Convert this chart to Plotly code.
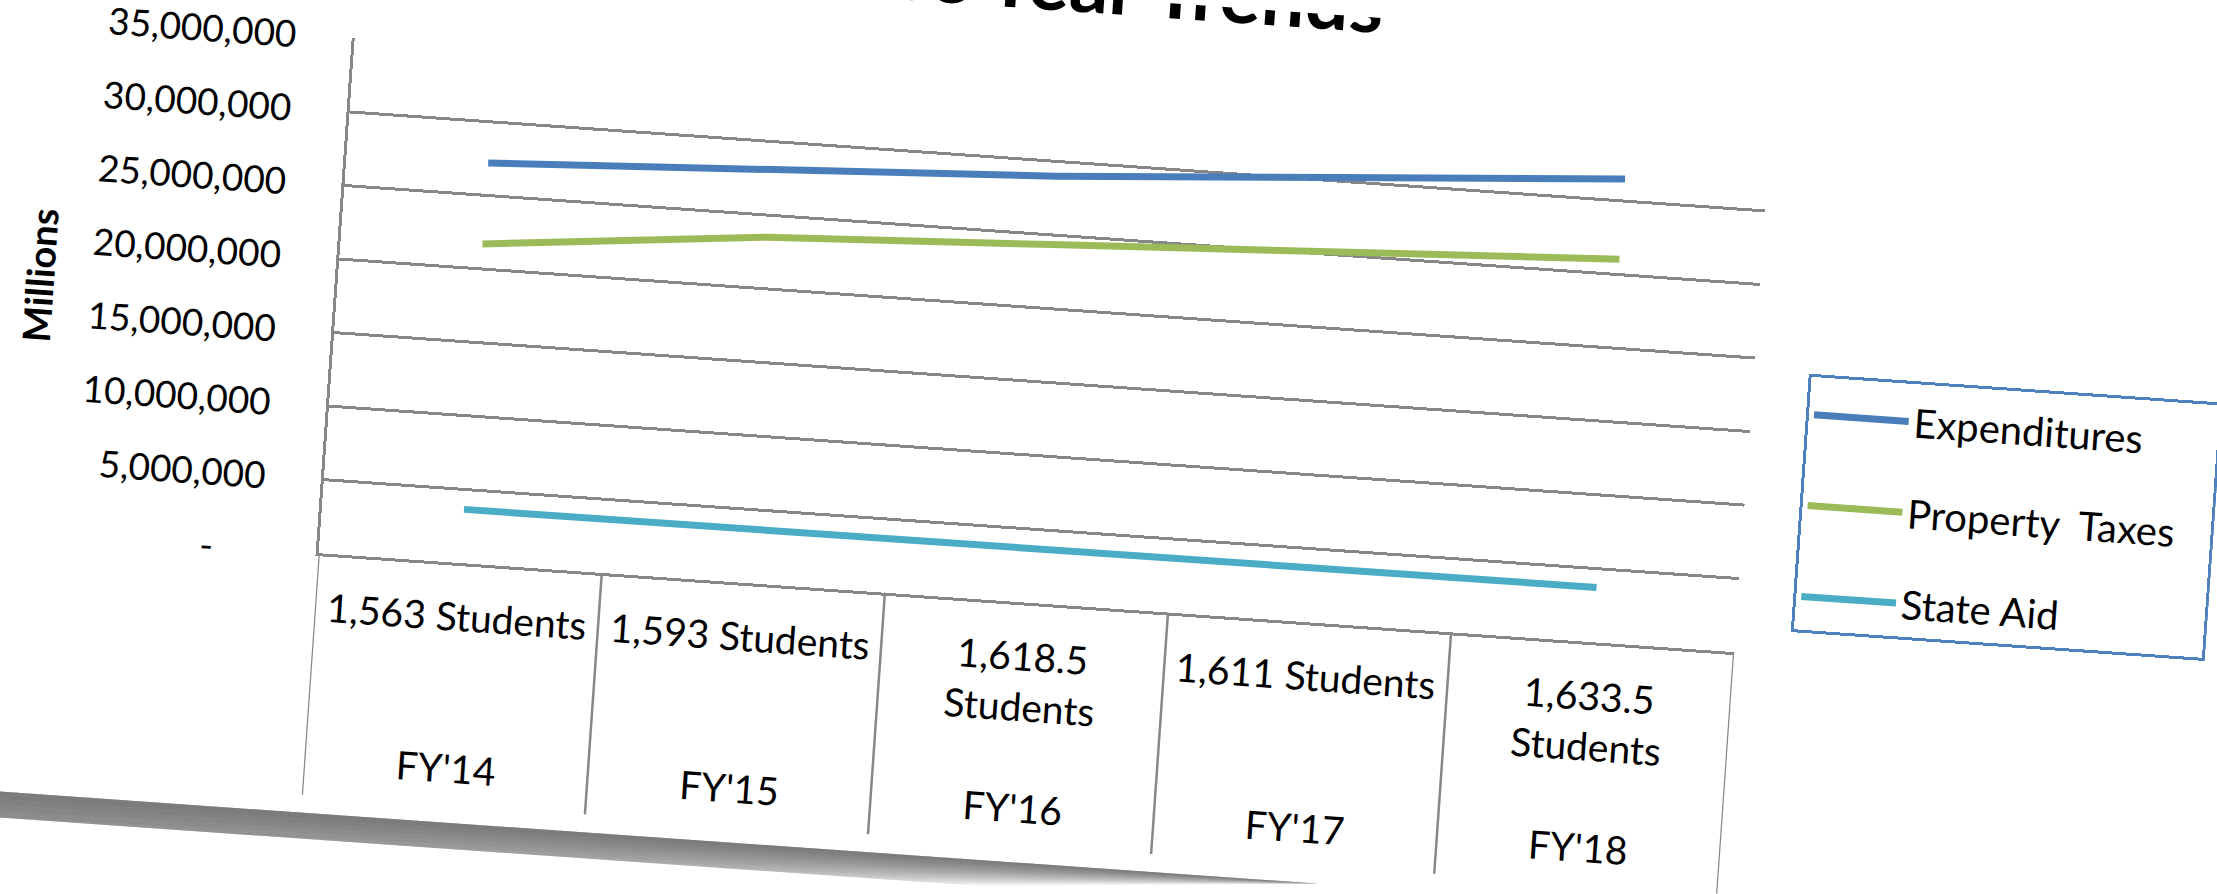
import plotly.graph_objects as go

# ---------------- data ----------------
fiscal_years = ["FY'14", "FY'15", "FY'16", "FY'17", "FY'18"]
student_labels = ["1,563 Students", "1,593 Students", "1,618.5<br>Students",
                  "1,611 Students", "1,633.5<br>Students"]
expenditures = [27_200_000, 28_100_000, 29_000_000, 30_250_000, 31_500_000]
property_taxes = [21_700_000, 23_500_000, 24_350_000, 25_200_000, 26_050_000]
state_aid = [3_650_000, 3_670_000, 3_690_000, 3_710_000, 3_730_000]
y_tick_values = [0, 5_000_000, 10_000_000, 15_000_000, 20_000_000,
                 25_000_000, 30_000_000, 35_000_000]
series_names = ["Expenditures", "Property\u00a0 Taxes", "State Aid"]
title_text = "Five Year Trends"
y_title = "Millions"

# ---------------- styling ----------------
FONT = "Lato"
GRID = "#878787"
colors = ["#4A7EBB", "#9BBB59", "#4BACC6"]
NBSP = "\u00a0"

y_tick_text = [("-" + NBSP * 5) if v == 0 else f"{v:,.0f}" for v in y_tick_values]

W, H = 2217, 894
L, R, T, B = 328, 470, 92, 286
plot_h = H - T - B
plot_w = W - L - R


def py(Y):
    """pixel row (from top) -> paper y"""
    return (H - B - Y) / plot_h


def px(X):
    """pixel column (from left) -> paper x"""
    return (X - L) / plot_w


fig = go.Figure()
for name, vals, col in zip(series_names, [expenditures, property_taxes, state_aid], colors):
    fig.add_trace(go.Scatter(
        x=fiscal_years, y=vals, mode="lines", name=name + NBSP * 3, legendgroup=name,
        line=dict(color=col, width=7), hoverinfo="skip",
    ))

# category "table" separators
n = len(fiscal_years)
for i in range(n + 1):
    fig.add_shape(type="line", xref="x", yref="paper", x0=i - 0.5, x1=i - 0.5,
                  y0=0, y1=py(850), line=dict(color=GRID, width=2.5), layer="below")

# category labels (two levels)
for i, (stu, fy) in enumerate(zip(student_labels, fiscal_years)):
    fig.add_annotation(x=i, xref="x", y=py(636), yref="paper", text=stu,
                       showarrow=False, yanchor="top", xanchor="center",
                       font=dict(family=FONT, size=39, color="black"))
    fig.add_annotation(x=i, xref="x", y=py(813), yref="paper", text=fy,
                       showarrow=False, yanchor="middle", xanchor="center",
                       font=dict(family=FONT, size=39, color="black"))

# axis title
fig.add_annotation(x=px(30), xref="paper", xanchor="center", y=0.5, yref="paper",
                   yanchor="middle", text="<b>" + y_title + "</b>", textangle=-90,
                   showarrow=False, font=dict(family=FONT, size=38, color="black"))

# chart title (partly off the top, as in the photo)
fig.add_annotation(x=px(1354), xref="paper", xanchor="right",
                   y=py(34), yref="paper", yanchor="bottom",
                   text="<b>" + title_text + "</b>", showarrow=False,
                   font=dict(family=FONT, size=78, color="black"))

# page-curl shadow under the sheet (layered for a soft gradient)
x_left = px(-150)
x_right = px(1350)
y_top = py(868)
for k in range(16):
    thick = 8 + k * 7
    y_bot = py(868 + thick)
    fig.add_shape(type="path", xref="paper", yref="paper",
                  path=f"M {x_left},{y_top} L {x_right},{y_top} L {x_left},{y_bot} Z",
                  fillcolor="#3a3a3a", opacity=0.06, line=dict(width=0), layer="below")

fig.update_layout(
    width=W, height=H,
    margin=dict(l=L, r=R, t=T, b=B, autoexpand=False),
    paper_bgcolor="white", plot_bgcolor="white",
    font=dict(family=FONT, size=37, color="black"),
    showlegend=True,
    legend=dict(x=px(1802), y=py(325), xanchor="left", yanchor="top",
                bordercolor="#4F81BD", borderwidth=3, bgcolor="white",
                font=dict(family=FONT, size=40, color="black"),
                title=dict(text=NBSP, font=dict(size=4)),
                tracegroupgap=36, itemwidth=95),
    xaxis=dict(range=[-0.5, n - 0.5], showticklabels=False, showgrid=False,
               showline=True, linecolor=GRID, linewidth=3, ticks="", zeroline=False,
               fixedrange=True),
    yaxis=dict(range=[0, 35_000_000], tickvals=y_tick_values, ticktext=y_tick_text,
               showgrid=True, gridcolor=GRID, gridwidth=3, showline=True,
               linecolor=GRID, linewidth=3, zeroline=False, ticks="",
               ticklabelstandoff=48, tickfont=dict(family=FONT, size=37, color="black"),
               fixedrange=True),
)

post = """
var gd = document.getElementById('{plot_id}');
document.body.style.margin = '0';
document.body.style.overflow = 'hidden';
document.documentElement.style.overflow = 'hidden';
gd.style.transformOrigin = '1108.5px 447px';
gd.style.transform = 'rotate(4deg)';
"""
fig.write_html("out.html", post_script=post)
